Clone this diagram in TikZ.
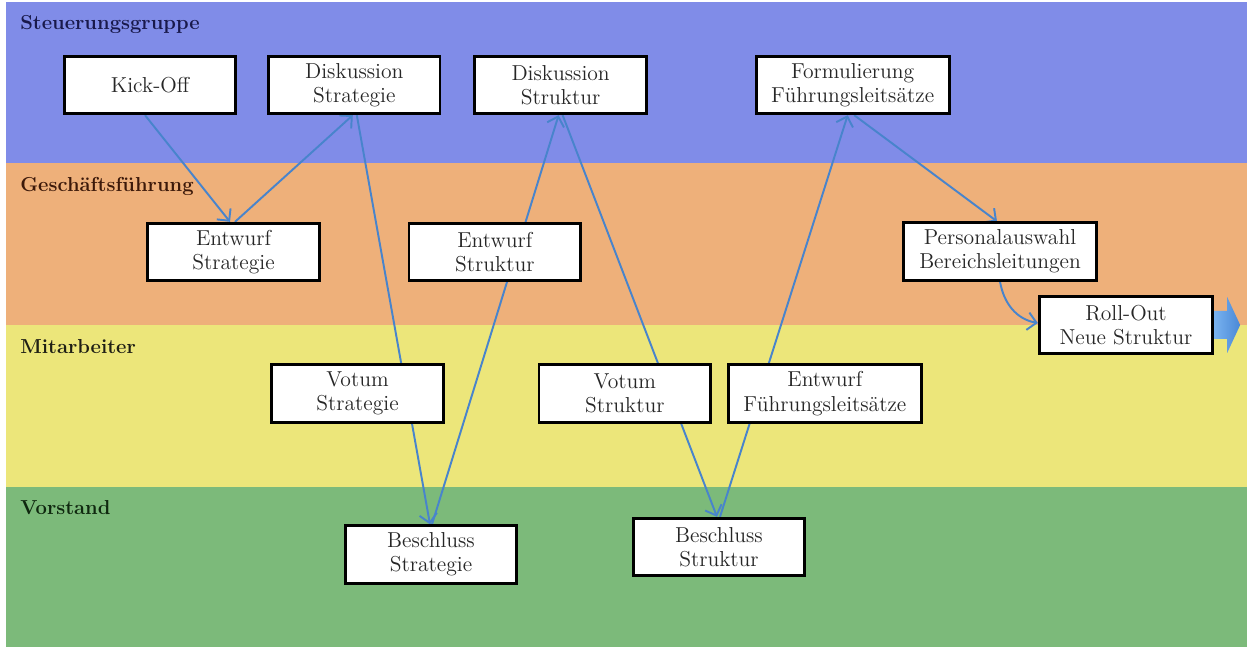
\documentclass[tikz,border=0pt]{standalone}
\usepackage{tikz}
\usetikzlibrary{positioning,arrows.meta}
\definecolor{sgblue}{RGB}{128,140,232}
\definecolor{gforange}{RGB}{238,176,122}
\definecolor{mayellow}{RGB}{236,230,122}
\definecolor{vsgreen}{RGB}{124,186,122}
\definecolor{sgtext}{RGB}{25,25,75}
\definecolor{gftext}{RGB}{60,25,10}
\definecolor{matext}{RGB}{30,30,20}
\definecolor{vstext}{RGB}{15,40,15}
\definecolor{flowblue}{RGB}{72,132,204}
\definecolor{fatlight}{RGB}{120,178,240}
\definecolor{fatdark}{RGB}{74,136,214}
\pgfdeclarelayer{lanes}
\pgfdeclarelayer{flows}
\pgfsetlayers{lanes,flows,main}
\tikzset{box/.style={draw=black,line width=1.6pt,fill=white,text=black!85,align=center,minimum width=3.43cm,minimum height=1.15cm,inner sep=2pt,font=\fontsize{12.3}{13.8}\selectfont},
  widebox/.style={box,minimum width=3.86cm},
  lanelabel/.style={anchor=base west,inner sep=0pt,font=\fontsize{11.5}{13}\selectfont\bfseries},
  flow/.style={every edge/.style={draw=flowblue,line width=1.1pt,-{Straight Barb[length=5pt,width=10pt]}}}}

\begin{document}
\begin{tikzpicture}
    \useasboundingbox (0,0) rectangle (25.08,-12.94);
    \begin{pgfonlayer}{lanes}
    \fill[sgblue] (0.12,-0.04) rectangle (24.94,-3.26);
    \fill[gforange] (0.12,-3.26) rectangle (24.94,-6.50);
    \fill[mayellow] (0.12,-6.50) rectangle (24.94,-9.74);
    \fill[vsgreen] (0.12,-9.74) rectangle (24.94,-12.94);
    \end{pgfonlayer}
    \node[lanelabel,text=sgtext] (lsg) at (0.4,-0.6) {Steuerungsgruppe};
    \node[lanelabel,text=gftext] (lgf) at (0.4,-3.84) {Geschäftsführung};
    \node[lanelabel,text=matext] (lma) at (0.4,-7.08) {Mitarbeiter};
    \node[lanelabel,text=vstext] (lvs) at (0.4,-10.28) {Vorstand};

    \node[box] (ko) at (3.00,-1.70) {Kick-Off};
    \node[box] (dstrat) [right=0.6cm of ko] {Diskussion\\Strategie};
    \node[box] (dstruk) [right=0.64cm of dstrat] {Diskussion\\Struktur};
    \node[widebox] (form) [right=2.14cm of dstruk] {Formulierung\\Führungsleitsätze};
    \node[box] (estrat) at (4.67,-5.04) {Entwurf\\Strategie};
    \node[box] (estruk) [right=1.74cm of estrat] {Entwurf\\Struktur};
    \node[widebox] (perso) at (20.00,-5.03) {Personalauswahl\\Bereichsleitungen};
    \node[box,minimum width=3.47cm] (roll) at (22.52,-6.50) {Roll-Out\\Neue Struktur};
    \node[box] (vstrat) at (7.15,-7.87) {Votum\\Strategie};
    \node[box] (vstruk) [right=1.86cm of vstrat] {Votum\\Struktur};
    \node[widebox] (efuehr) [right=0.3cm of vstruk] {Entwurf\\Führungsleitsätze};
    \node[box] (bstrat) at (8.62,-11.09) {Beschluss\\Strategie};
    \node[box] (bstruk) at (14.38,-10.94) {Beschluss\\Struktur};

    \begin{pgfonlayer}{flows}
    \path[flow]
    ([xshift=-0.1cm]ko.south) edge ([xshift=-0.07cm]estrat.north)
    ([xshift=0.03cm]estrat.north) edge ([xshift=-0.03cm]dstrat.south)
    ([xshift=0.05cm]dstrat.south) edge ([xshift=-0.02cm]bstrat.north)
    ([xshift=0.02cm]bstrat.north) edge ([xshift=-0.04cm]dstruk.south)
    ([xshift=0.04cm]dstruk.south) edge ([xshift=-0.04cm]bstruk.north)
    ([xshift=0.02cm]bstruk.north) edge ([xshift=-0.1cm]form.south)
    ([xshift=0.03cm]form.south) edge ([xshift=-0.06cm]perso.north)
    (perso.south) edge[out=-80,in=170] ([yshift=0.04cm]roll.west)
    ;
    \end{pgfonlayer}
    \shade[left color=fatlight,right color=fatdark] (roll.east) ++(0,0.28) -- ++(0.26,0) -- ++(0,0.28) -- ++(0.26,-0.56) -- ++(-0.26,-0.56) -- ++(0,0.28) -- ++(-0.26,0) -- cycle;
\end{tikzpicture}
\end{document}
